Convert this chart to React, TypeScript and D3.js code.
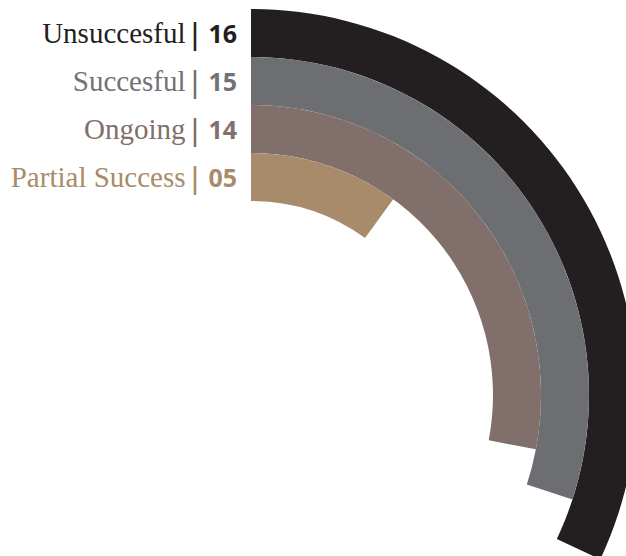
import React from "react";
import * as d3 from "d3";

const categories = ["Unsuccesful", "Succesful", "Ongoing", "Partial Success"];
const values = [16, 15, 14, 5];
const valueLabels = ["16", "15", "14", "05"];
const colors = ["#231f20", "#6d6e71", "#806f6a", "#a88b6a"];
const textColors = ["#231f20", "#717275", "#806f6a", "#a88b6a"];

const W = 626;
const H = 556;
const cx = 251;
const cy = 395;

export default function App() {
  const total = d3.sum(values);
  const angle = d3.scaleLinear().domain([0, total]).range([0, 2 * Math.PI]);
  const band = d3.scaleBand<string>().domain(categories).range([9, 201]).padding(0);
  const bw = band.bandwidth();
  const arc = d3.arc<any>();

  return (
    <svg
      width={W}
      height={H}
      style={{ position: "absolute", left: 0, top: 0, background: "#fff" }}
    >
      <g transform={`translate(${cx},${cy})`}>
        {categories.map((c, i) => {
          const top = band(c)!;
          const d = arc({
            innerRadius: cy - (top + bw),
            outerRadius: cy - top,
            startAngle: 0,
            endAngle: angle(values[i]),
          });
          return <path key={c} d={d || ""} fill={colors[i]} />;
        })}
      </g>
      {categories.map((c, i) => {
        const y = band(c)! + bw / 2 + 10;
        return (
          <g key={c} fill={textColors[i]}>
            <text
              x={185.5}
              y={y}
              textAnchor="end"
              fontFamily="'Liberation Serif', serif"
              fontSize={29}
            >
              {c}
            </text>
            <text
              x={195}
              y={y + 1}
              textAnchor="middle"
              fontFamily="'Open Sans', sans-serif"
              fontWeight={600}
              fontSize={28}
            >
              |
            </text>
            <text
              x={237}
              y={y}
              textAnchor="end"
              fontFamily="'Open Sans', sans-serif"
              fontWeight={700}
              fontSize={25}
            >
              {valueLabels[i]}
            </text>
          </g>
        );
      })}
    </svg>
  );
}
